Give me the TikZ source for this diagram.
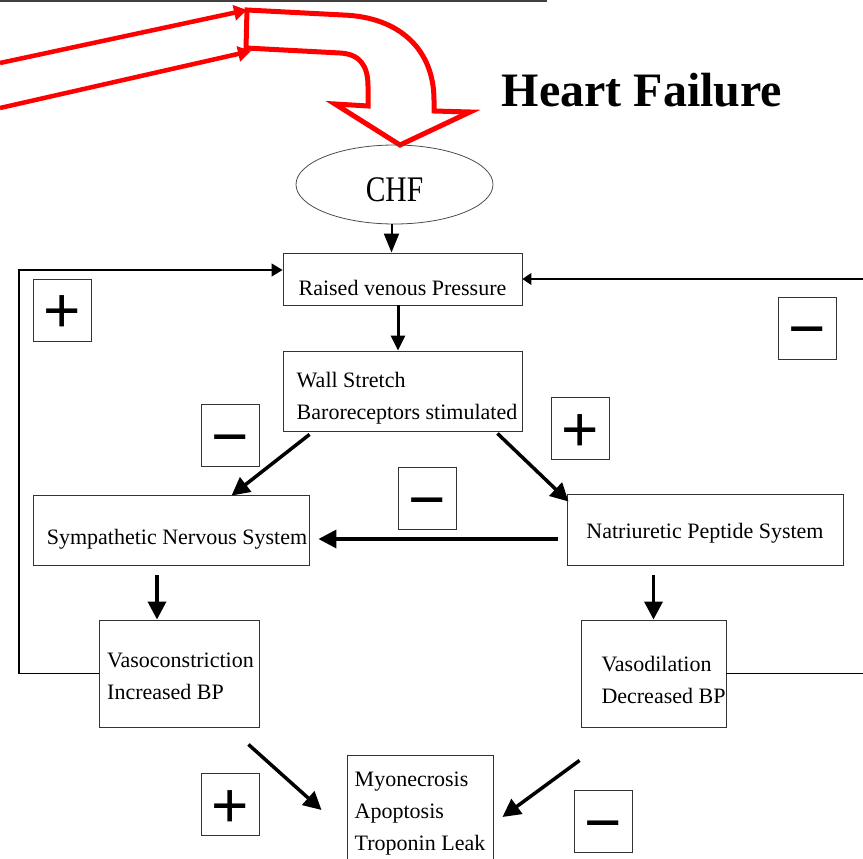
\documentclass[tikz,border=0pt]{standalone}
\usepackage{fontspec}
\setmainfont{Liberation Serif}
\newfontfamily\signfont{Liberation Sans}
\usetikzlibrary{arrows.meta, shapes.geometric}
% strut that pushes the text of a box down
\newcommand{\txtdrop}[1]{\rule{0pt}{#1pt}}

\begin{document}
\begin{tikzpicture}[x = 1pt, y = -1pt, % pixel grid, y downwards
                > = {Triangle[length=18pt, width=18pt]}, % arrow head style
                semithick % line style
            ]

    \tikzstyle{box}=[draw = black!80, line width = 0.9pt, rectangle,
        inner sep = 0pt, font = \fontsize{22}{32}\selectfont, align = center]
    \tikzstyle{sign}=[box, minimum width = 58pt, minimum height = 62pt,
        font = \signfont\fontsize{64}{64}\selectfont, text height = 45pt,
        text depth = 0pt]
    \tikzstyle{heavy}=[->, line width = 3.5pt]
    \tikzstyle{light}=[-{Triangle[length=11pt, width=13pt]}, line width = 1.2pt]
    \tikzstyle{redline}=[red, line width = 4.5pt]

    \useasboundingbox (0,0) rectangle (863,859);

    % rule and title
    \draw[black!75, line width = 1.5pt] (0,1) -- (547,1);
    \node[font = \bfseries\fontsize{48}{48}\selectfont] (title) at (642,90)
        {Heart Failure};

    % red arrows into the bent arrow
    \coordinate (srcU) at (0,63); \coordinate (srcL) at (0,108);
    \coordinate (inU) at (247,10); \coordinate (inL) at (251,51);
    \draw[redline, -{Triangle[length=13pt, width=15pt]}] (srcU) -- (inU);
    \draw[redline, -{Triangle[length=13pt, width=15pt]}] (srcL) -- (inL);
    \draw[redline, line width = 5pt, line join = miter] (247,10) -- (343,15)
        .. controls (400,17) and (434,50) .. (434,100) -- (434,111)
        -- (470,112) -- (400,145) -- (335,104) -- (368,106) -- (368,86)
        .. controls (368,66) and (360,54) .. (340,53) -- (246,48) -- cycle;

    % boxes
    \node[ellipse, draw = black!70, line width = 0.8pt, inner sep = 0pt,
        minimum width = 197pt, minimum height = 79pt,
        font = \fontsize{36}{36}\selectfont] (chf) at (394.5,184.5)
        {\txtdrop{34}\scalebox{0.82}[1]{CHF}};
    \node[box, minimum width = 239pt, minimum height = 52pt] (rvp)
        at (402.5,279) {\txtdrop{33}Raised venous Pressure};
    \node[box, align = left, minimum width = 239pt, minimum height = 80pt]
        (wall) at (402.5,391)
        {\txtdrop{30}\hspace*{9pt}Wall Stretch\\\hspace*{9pt}Baroreceptors stimulated};
    \node[box, minimum width = 276pt, minimum height = 70pt] (sns)
        at (171,530) {\txtdrop{33}\hspace*{12pt}Sympathetic Nervous System};
    \node[box, minimum width = 276pt, minimum height = 71pt] (nps)
        at (705,529.5) {\txtdrop{23}Natriuretic Peptide System};
    \node[box, align = left, minimum width = 160pt, minimum height = 107pt]
        (vc) at (179,673.5) {\txtdrop{21}\hspace*{3pt}Vasoconstriction\\\hspace*{3pt}Increased BP};
    \node[box, align = left, minimum width = 145pt, minimum height = 107pt]
        (vd) at (653.5,673.5)
        {\txtdrop{29}\hspace*{20pt}Vasodilation\\\hspace*{20pt}Decreased BP};
    \node[box, align = left, minimum width = 146pt, minimum height = 110pt]
        (myo) at (420,810) {\txtdrop{21}Myonecrosis\\Apoptosis\\Troponin Leak};

    % signs
    \node[sign] (p1) at (62,310) {+};
    \node[sign] (m1) at (807,328) {−};
    \node[sign] (m2) at (230.5,435.5) {−};
    \node[sign] (p2) at (580.5,428.5) {+};
    \node[sign] (m3) at (427.5,498.5) {−};
    \node[sign] (p3) at (230.5,804.5) {+};
    \node[sign] (m4) at (603,821.5) {−};

    % arrows
    \draw[->, line width = 2pt, > = {Triangle[length=19pt, width=15pt]}]
        ([xshift=-3pt]chf.south) -- ([xshift=-3pt]chf.south |- rvp.north);
    \draw[->, line width = 3pt, > = {Triangle[length=15pt, width=14pt]}]
        ([xshift=-4.5pt]rvp.south) -- ([xshift=-4.5pt]wall.north);
    \draw[heavy] ([shift={(27,3)}]wall.south west) -- ([shift={(199,1)}]sns.north west);
    \draw[heavy] ([shift={(-25,2)}]wall.south east) -- ([shift={(2,8)}]nps.north west);
    \draw[heavy] ([shift={(-9,9.5)}]nps.west) -- ([shift={(9,9)}]sns.east);
    \draw[heavy, shorten <= 10pt] ([xshift=-22pt]vc.north |- sns.south)
        -- ([xshift=-22pt]vc.north);
    \draw[heavy, shorten <= 10pt] (vd.north |- nps.south) -- (vd.north);
    \draw[heavy] ([shift={(-11,17)}]vc.south east) -- ([xshift=-25pt]myo.west);
    \draw[heavy] ([shift={(-1,33)}]vd.south west) -- ([shift={(9,7)}]myo.east);

    % feedback loops
    \coordinate (loop) at (19,270);
    \coordinate (rim) at (863,0);
    \draw[light] (vc.west) -| (loop) -- (loop -| rvp.west);
    \draw[line width = 1.2pt] (vd.east) -- (vd.east -| rim);
    \draw[light, -{Triangle[length=9pt, width=12pt]}] (rvp.east -| rim)
        -- (rvp.east);
\end{tikzpicture}
\end{document}
